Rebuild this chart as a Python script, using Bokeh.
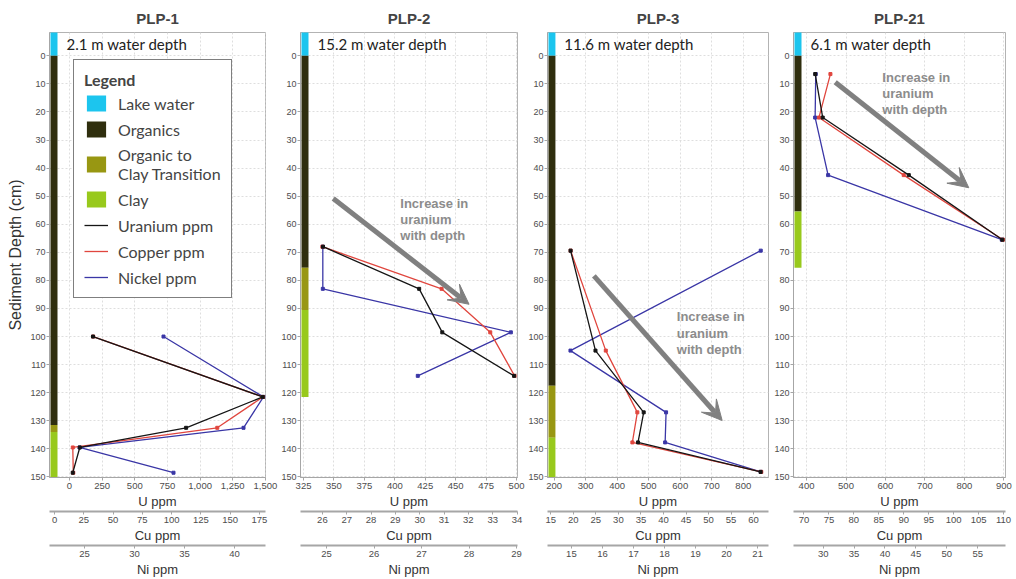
from bokeh.plotting import figure
from bokeh.models import (Range1d, LinearAxis, FixedTicker, NumeralTickFormatter,
                          Legend, LegendItem, Arrow, VeeHead, ColumnDataSource)
from bokeh.layouts import row
from bokeh.core.properties import value
from bokeh.embed import file_html
from bokeh.resources import INLINE

# ---------------- data ----------------
cores = ["PLP-1", "PLP-2", "PLP-3", "PLP-21"]
water_labels = ["2.1 m water depth", "15.2 m water depth", "11.6 m water depth", "6.1 m water depth"]

strata_names = ["Lake water", "Organics", "Organic to\nClay Transition", "Clay"]
strata_colors = ["#1cc5ee", "#2f2e0e", "#989712", "#98c91c"]

# strata tops / bottoms (cm) for each core, in strata_names order
plp1_strata_top = [-10, 0, 131.5, 134]
plp1_strata_bottom = [0, 131.5, 134, 151]
plp2_strata_top = [-10, 0, 75.5, 90.5]
plp2_strata_bottom = [0, 75.5, 90.5, 121.5]
plp3_strata_top = [-10, 0, 117.5, 136]
plp3_strata_bottom = [0, 117.5, 136, 151]
plp21_strata_top = [-10, 0, 55.5, 55.5]
plp21_strata_bottom = [0, 55.5, 55.5, 75.5]

# sample depths (cm) and concentrations (ppm)
plp1_depth = [100, 121.5, 132.5, 139.5, 148.5]
plp1_u = [180, 1480, 893, 79, 25]
plp1_cu = [33, 178, 139, 15.6, 16]
plp1_ni = [32.9, 42.9, 40.9, 24.5, 33.9]

plp2_depth = [68, 83, 98.5, 114]
plp2_u = [341, 420, 439, 498]
plp2_cu = [26.0, 30.9, 32.9, 33.9]
plp2_ni = [24.92, 24.92, 28.88, 26.92]

plp3_depth = [69.4, 105, 127, 137.7, 148.2]
plp3_u = [252, 331, 484, 466, 855]
plp3_cu = [19.4, 27.2, 34.2, 33.1, 61.7]
plp3_ni = [21.1, 14.97, 18.05, 18.02, 21.1]

plp21_depth = [6.5, 22, 42.5, 65.5]
plp21_u = [422, 441, 659, 896]
plp21_cu = [75.3, 73.0, 90.0, 109.9]
plp21_ni = [28.8, 28.7, 30.8, 58.9]

# axis limits and ticks
u_lims = [(-153, 1501), (322.5, 500.8), (178.8, 880), (367, 904)]
cu_lims = [(-4.3, 180.2), (25.1, 34.02), (14.27, 63.3), (67.9, 110.4)]
ni_lims = [(21.5, 43.1), (24.45, 29.02), (14.23, 21.35), (25.2, 59.5)]
depth_ticks = [0, 10, 20, 30, 40, 50, 60, 70, 80, 90, 100, 110, 120, 130, 140, 150]
u_ticks = [[0, 250, 500, 750, 1000, 1250, 1500],
           [325, 350, 375, 400, 425, 450, 475, 500],
           [200, 300, 400, 500, 600, 700, 800],
           [400, 500, 600, 700, 800, 900]]
cu_ticks = [[0, 25, 50, 75, 100, 125, 150, 175],
            [26, 27, 28, 29, 30, 31, 32, 33, 34],
            [15, 20, 25, 30, 35, 40, 45, 50, 55, 60],
            [70, 75, 80, 85, 90, 95, 100, 105, 110]]
ni_ticks = [[25, 30, 35, 40],
            [25, 26, 27, 28, 29],
            [15, 16, 17, 18, 19, 20, 21],
            [30, 35, 40, 45, 50, 55]]

note_text = "Increase in\nuranium\nwith depth"
# (text x, text y, arrow x0, y0, x1, y1) in U ppm / depth units; None = no note
notes = [None,
         (404.5, 49.8, 349.4, 50.8, 461, 88.5),
         (589, 90.3, 326, 78.4, 733, 129.9),
         (592, 5.0, 472.7, 9.4, 811, 47.0)]

series_names = ["Uranium ppm", "Copper ppm", "Nickel ppm"]
series_colors = ["#151515", "#e0463e", "#3a36a6"]

depths = [plp1_depth, plp2_depth, plp3_depth, plp21_depth]
us = [plp1_u, plp2_u, plp3_u, plp21_u]
cus = [plp1_cu, plp2_cu, plp3_cu, plp21_cu]
nis = [plp1_ni, plp2_ni, plp3_ni, plp21_ni]
s_tops = [plp1_strata_top, plp2_strata_top, plp3_strata_top, plp21_strata_top]
s_bots = [plp1_strata_bottom, plp2_strata_bottom, plp3_strata_bottom, plp21_strata_bottom]

# ---------------- layout ----------------
widths = [278, 247, 245, 243]
mbl = [49, 22, 20, 23]
mbr = [13, 8, 2, 8]
FONT = "Liberation Sans"


def style_axis(ax, label_size="13px"):
    ax.major_label_text_font = FONT
    ax.major_label_text_font_size = "9.5px"
    ax.major_label_text_color = "#4d4d4d"
    ax.axis_label_text_font = FONT
    ax.axis_label_text_font_size = label_size
    ax.axis_label_text_font_style = "normal"
    ax.axis_label_text_color = "#333333"
    ax.axis_line_color = "#a6a6a6"
    ax.major_tick_line_color = "#a6a6a6"
    ax.minor_tick_line_color = None
    ax.major_tick_out = 3
    ax.major_tick_in = 0
    ax.major_label_standoff = 2
    ax.axis_label_standoff = 2


def build(i):
    fw = widths[i] - mbl[i] - mbr[i]
    p = figure(width=widths[i], height=579,
               x_range=Range1d(*u_lims[i]), y_range=Range1d(150.2, -8.3),
               output_backend="svg", toolbar_location=None, title=cores[i],
               min_border_left=mbl[i], min_border_right=mbr[i],
               min_border_top=32, min_border_bottom=0,
               x_axis_label="U ppm")
    p.title.align = "center"
    p.title.text_font = FONT
    p.title.text_font_size = "15px"
    p.title.text_font_style = "bold"
    p.title.standoff = 12
    p.outline_line_color = "#b3b3b3"
    p.background_fill_color = "white"
    p.border_fill_color = "white"

    p.extra_x_ranges = {"cu": Range1d(*cu_lims[i]), "ni": Range1d(*ni_lims[i]),
                        "strata": Range1d(0, fw)}

    # axes
    p.xaxis.ticker = FixedTicker(ticks=u_ticks[i])
    p.xaxis.formatter = NumeralTickFormatter(format="0,0")
    style_axis(p.xaxis[0])
    p.yaxis.ticker = FixedTicker(ticks=depth_ticks)
    style_axis(p.yaxis[0], label_size="16px")
    p.yaxis.major_label_text_font_size = "9px"
    p.yaxis.major_label_standoff = 1
    if i == 0:
        p.yaxis.axis_label = "Sediment Depth (cm)"
        p.yaxis.axis_label_standoff = 3
    cu_ax = LinearAxis(x_range_name="cu", axis_label="Cu ppm", ticker=FixedTicker(ticks=cu_ticks[i]))
    ni_ax = LinearAxis(x_range_name="ni", axis_label="Ni ppm", ticker=FixedTicker(ticks=ni_ticks[i]))
    for ax in (cu_ax, ni_ax):
        style_axis(ax)
        ax.axis_line_width = 2
        p.add_layout(ax, "below")

    p.xgrid.ticker = FixedTicker(ticks=u_ticks[i])
    p.grid.grid_line_color = "#dedede"
    p.grid.grid_line_dash = "2 2"

    # strata column
    strata_r = []
    for k in range(len(strata_names)):
        r = p.quad(left=1, right=8, top=s_tops[i][k], bottom=s_bots[i][k],
                   x_range_name="strata", fill_color=strata_colors[k], line_color=None)
        strata_r.append(r)

    p.text(x=[17], y=[-4.3], text=[water_labels[i]], x_range_name="strata",
           text_baseline="middle", text_align="left", text_font=value("Lato"),
           text_font_size="15px", text_color="#222222")

    # series
    src = ColumnDataSource(dict(d=depths[i], u=us[i], cu=cus[i], ni=nis[i]))
    line_r = []
    for key, rng, col in [("ni", "ni", series_colors[2]), ("cu", "cu", series_colors[1]),
                          ("u", "default", series_colors[0])]:
        r = p.line(x=key, y="d", source=src, x_range_name=rng, line_color=col, line_width=1.3)
        p.scatter(x=key, y="d", source=src, x_range_name=rng, marker="square", size=3,
                  fill_color=col, line_color=col)
        line_r.append(r)
    line_r = line_r[::-1]  # U, Cu, Ni

    # note + arrow
    if notes[i] is not None:
        tx, ty, ax0, ay0, ax1, ay1 = notes[i]
        p.add_layout(Arrow(end=VeeHead(size=20, fill_color="#808080", line_color="#808080"),
                           x_start=ax0, y_start=ay0, x_end=ax1, y_end=ay1,
                           line_color="#808080", line_width=5))
        p.text(x=[tx], y=[ty], text=[note_text], text_baseline="top", text_align="left",
               text_font=value(FONT), text_font_style="bold", text_font_size="13px",
               text_color="#8c8c8c", text_line_height=1.08)

    if i == 0:
        items = [LegendItem(label=strata_names[k], renderers=[strata_r[k]]) for k in range(4)]
        items += [LegendItem(label=series_names[k], renderers=[line_r[k]]) for k in range(3)]
        leg = Legend(items=items, location=(24, 179), title="Legend",
                     title_text_font="Lato", title_text_font_size="16px",
                     title_text_font_style="bold", title_standoff=4,
                     label_text_font="Lato", label_text_font_size="16px",
                     glyph_width=24, glyph_height=20, label_standoff=10, spacing=6,
                     padding=10, border_line_color="black", border_line_width=1.5,
                     background_fill_alpha=1.0)
        p.add_layout(leg)
    return p


plots = [build(i) for i in range(4)]
layout = row(*plots, spacing=0)
open("out.html", "w").write(file_html(layout, INLINE))
